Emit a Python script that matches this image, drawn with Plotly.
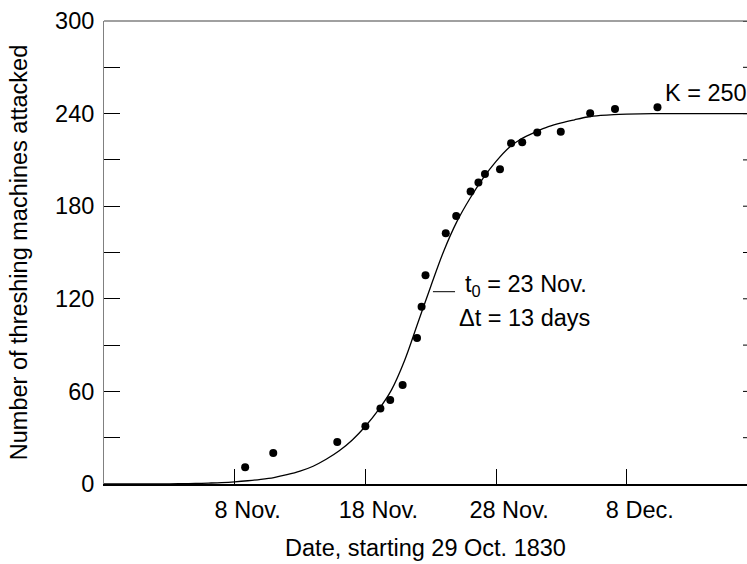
import plotly.graph_objects as go

# Observed data: day number counted from 29 Oct. 1830 (day 0), cumulative machines attacked
obs_days = [10.8, 12.95, 17.85, 20.0, 21.15, 21.9, 22.85, 23.95, 24.3, 24.6, 26.15, 26.95,
            28.05, 28.65, 29.15, 30.3, 31.15, 32.0, 33.15, 34.95, 37.2, 39.1, 42.35]
obs_values = [10.8, 20.1, 27.2, 37.4, 49.0, 54.4, 64.2, 94.6, 114.9, 135.2, 162.5, 173.7,
              189.5, 195.3, 200.9, 203.9, 220.8, 221.4, 227.7, 228.3, 240.2, 243.0, 244.1]

# Fitted logistic curve
curve_days = [0, 5, 6, 7, 8, 9, 10, 11, 12, 13, 14, 15, 16, 17, 18, 19, 20, 21, 22, 23, 24, 25,
              26, 27, 28, 29, 30, 31, 32, 33, 34, 35, 36, 37, 38, 39, 40, 42, 45, 49.2]
curve_values = [0, 0.1, 0.2, 0.35, 0.6, 0.9, 1.4, 2.1, 3.0, 4.2, 6.0, 8.3, 11.5, 16.0, 21.5,
                28.5, 37.4, 48.0, 61.0, 80.0, 104.0, 128.0, 151.0, 170.0, 185.0, 198.0, 209.0,
                218.0, 224.0, 228.0, 231.5, 234.0, 236.0, 237.8, 238.8, 239.4, 239.7, 240.0,
                240.0, 240.0]

x_tick_vals = [10, 20, 30, 40]
x_tick_text = ["8 Nov.", "18 Nov.", "28 Nov.", "8 Dec."]
y_tick_vals = [0, 30, 60, 90, 120, 150, 180, 210, 240, 270, 300]
y_tick_text = ["0", "", "60", "", "120", "", "180", "", "240", "", "300"]

FONT = "Liberation Sans, Arial, sans-serif"
FS = 23.5

fig = go.Figure()
fig.add_trace(go.Scatter(x=curve_days, y=curve_values, mode="lines",
                         line=dict(color="black", width=1.3, shape="spline"),
                         hoverinfo="skip"))
fig.add_trace(go.Scatter(x=obs_days, y=obs_values, mode="markers",
                         marker=dict(color="black", size=8)))

shapes = [
    dict(type="line", xref="paper", yref="paper", x0=0, x1=1, y0=1, y1=1,
         line=dict(color="#808080", width=1.5)),
    dict(type="line", xref="x", yref="y", x0=25.17, x1=26.86, y0=124.6, y1=124.6,
         line=dict(color="black", width=1)),
]
for v in y_tick_vals[1:]:
    shapes.append(dict(type="line", xref="paper", yref="y", x0=1 - 4 / 643, x1=1,
                       y0=v, y1=v, line=dict(color="black", width=1)))

fig.update_layout(
    width=747, height=564,
    margin=dict(l=104, r=0, t=21, b=80),
    paper_bgcolor="white", plot_bgcolor="white",
    showlegend=False,
    font=dict(family=FONT, size=FS, color="black"),
    shapes=shapes,
    xaxis=dict(range=[0, 49.2], showgrid=False, zeroline=False, automargin=False,
               showline=True, linecolor="black", linewidth=1.5,
               ticks="inside", ticklen=15, tickwidth=1, tickcolor="black",
               tickvals=x_tick_vals, ticktext=x_tick_text,
               tickfont=dict(size=FS),
               ticklabelshift=13, ticklabelstandoff=4,
               title=dict(text="Date, starting 29 Oct. 1830", standoff=18,
                          font=dict(size=FS))),
    yaxis=dict(range=[0, 300], showgrid=False, zeroline=False, automargin=False,
               showline=True, linecolor="#808080", linewidth=1,
               ticks="inside", ticklen=16, tickwidth=1, tickcolor="black",
               tickvals=y_tick_vals, ticktext=y_tick_text,
               tickfont=dict(size=FS),
               ticklabelstandoff=4,
               title=dict(text="Number of threshing machines attacked", standoff=20,
                          font=dict(size=FS))),
    annotations=[
        dict(x=42.77, y=253.4, xref="x", yref="y", text="K = 250", showarrow=False,
             xanchor="left", yanchor="middle"),
        dict(x=27.47, y=128.3, xref="x", yref="y", text="t<sub>0</sub> = 23 Nov.",
             showarrow=False, xanchor="left", yanchor="middle"),
        dict(x=27.0, y=107.6, xref="x", yref="y", text="\u0394t = 13 days",
             showarrow=False, xanchor="left", yanchor="middle"),
    ],
)

fig.write_html("out.html", config={"displayModeBar": False},
               post_script="document.body.style.margin='0';document.body.style.overflow='hidden';")
